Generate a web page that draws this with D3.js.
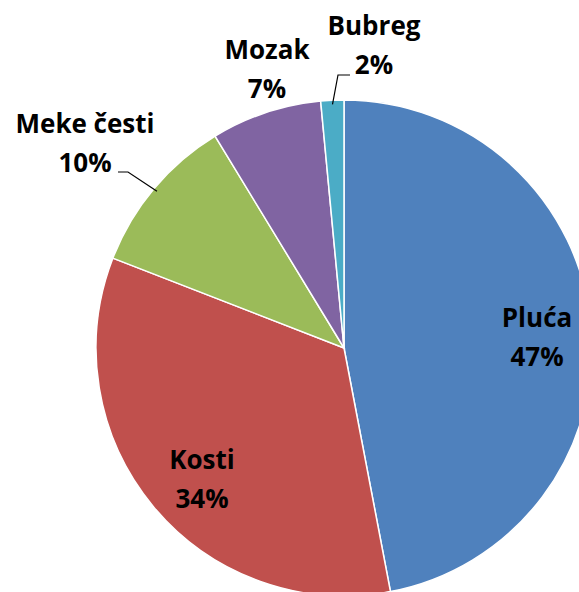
<!DOCTYPE html>
<html>
<head>
<meta charset="utf-8">
<script src="https://cdn.jsdelivr.net/npm/d3@7"></script>
<style>
	body { margin: 0; background: #fff; }
	text { font-family: "Open Sans", sans-serif; font-weight: bold; font-size: 26px; fill: #000; }
</style>
</head>
<body>
<script>
const categories = ["Pluća", "Kosti", "Meke česti", "Mozak", "Bubreg"];
const values = [47.0, 33.9, 10.4, 7.2, 1.5];
const percentLabels = ["47%", "34%", "10%", "7%", "2%"];
const colors = ["#4F81BD", "#C0504D", "#9BBB59", "#8064A2", "#4BACC6"];

const width = 579, height = 592;
const cx = 344, cy = 348, radius = 248;

// where each label block is centred (text placement only)
const labelSpots = {
	"Pluća": [537, 334],
	"Kosti": [202, 476],
	"Meke česti": [85, 140],
	"Mozak": [267, 66],
	"Bubreg": [374, 42],
};

const svg = d3.select("body")
	.append("svg")
	.attr("width", width)
	.attr("height", height);

const pie = d3.pie().sort(null).value(d => d.value);
const arc = d3.arc().innerRadius(0).outerRadius(radius);

const data = categories.map((c, i) => ({ name: c, value: values[i], label: percentLabels[i], color: colors[i] }));
const arcs = pie(data);

const g = svg.append("g").attr("transform", `translate(${cx},${cy})`);

g.selectAll("path")
	.data(arcs)
	.enter()
	.append("path")
	.attr("d", arc)
	.attr("fill", d => d.data.color)
	.attr("stroke", "#fff")
	.attr("stroke-width", 1.5);

// leader lines for the small outside slices
const leaderArc = d3.arc().innerRadius(radius - 4).outerRadius(radius - 4);
function leader(name, bend, end) {
	const a = arcs.find(d => d.data.name === name);
	const ang = (a.startAngle + a.endAngle) / 2;
	const p = [cx + Math.sin(ang) * (radius - 4), cy - Math.cos(ang) * (radius - 4)];
	svg.append("polyline")
		.attr("points", [p, bend, end].map(q => q.join(",")).join(" "))
		.attr("fill", "none")
		.attr("stroke", "#000")
		.attr("stroke-width", 1.2);
}
leader("Meke česti", [128, 172], [118, 172]);
leader("Bubreg", [338, 75], [350, 75]);

const labels = svg.selectAll("text.lbl")
	.data(arcs)
	.enter()
	.append("text")
	.attr("class", "lbl")
	.attr("text-anchor", "middle")
	.attr("transform", d => `translate(${labelSpots[d.data.name][0]},${labelSpots[d.data.name][1]})`);

labels.append("tspan")
	.attr("x", 0)
	.attr("y", -7)
	.text(d => d.data.name);
labels.append("tspan")
	.attr("x", 0)
	.attr("y", 32)
	.text(d => d.data.label);
</script>
</body>
</html>
